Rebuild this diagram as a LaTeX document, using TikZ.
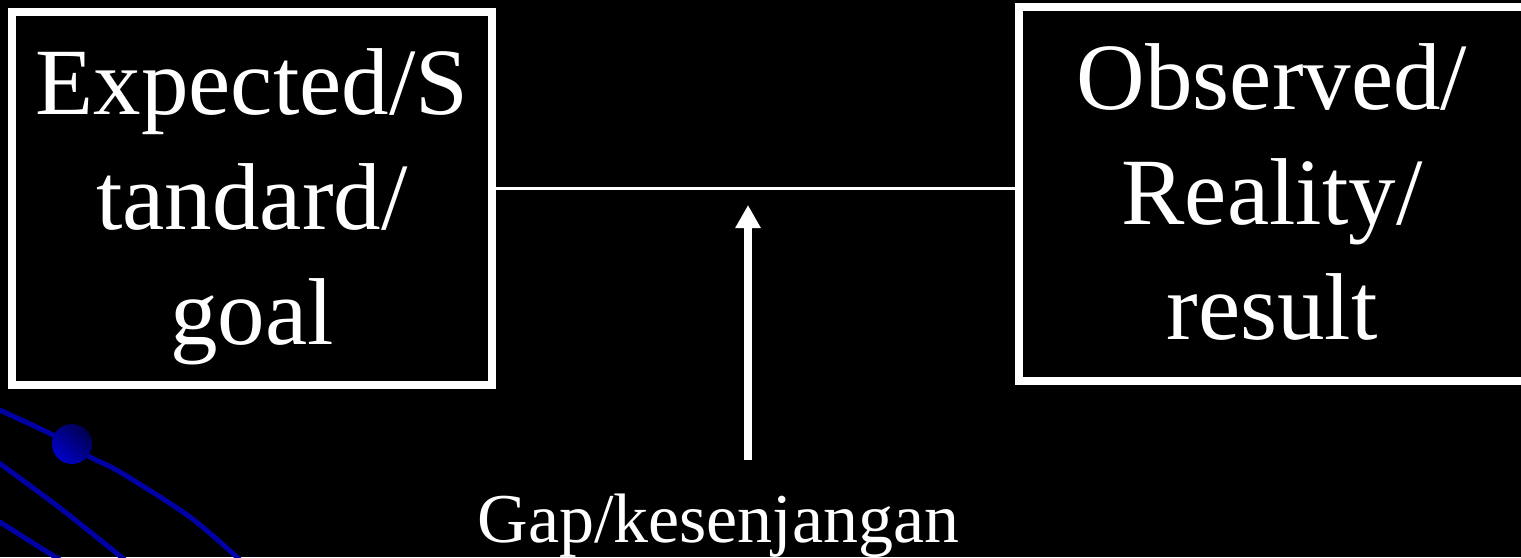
\documentclass[tikz,border=0pt]{standalone}
\usepackage{fontspec}
\setmainfont{Liberation Serif}
\usetikzlibrary{arrows.meta,calc}
\definecolor{deco}{RGB}{0,0,165}
\definecolor{ballhi}{RGB}{0,0,200}
\definecolor{balllo}{RGB}{0,0,80}
\tikzset{
  bigbox/.style={draw=white, line width=8pt, inner sep=0pt},
  boxtext/.style={text=white, align=center, inner sep=0pt,
    font=\fontsize{95}{115}\selectfont},
  gaplabel/.style={text=white, inner sep=0pt, font=\fontsize{70}{84}\selectfont},
  link/.style={draw=white, line width=3pt},
  uparrow/.style={draw=white, line width=8pt, -{Triangle[width=24pt,length=23pt]}},
  orbit/.style={draw=deco, line width=5pt, line cap=round}
}
\begin{document}
\begin{tikzpicture}[x=1pt,y=-1pt]
\fill[black] (0,0) rectangle (1521,557);
\useasboundingbox (0,0) rectangle (1521,557);
% decoration
\draw[orbit] plot[smooth] coordinates {(-5,408) (53,435) (90,457) (120,472) (190,517) (240,560)};
\draw[orbit] plot[smooth] coordinates {(-5,460) (60,508) (125,560)};
\draw[orbit] plot[smooth] coordinates {(-5,519) (60,560)};
\shade[shading=axis, top color=balllo, bottom color=ballhi, shading angle=-45] (72,444) circle (20);
% boxes
\node[bigbox, minimum width=480pt, minimum height=373pt] (L) at (252,198.5) {};
\node[boxtext, yshift=-8.5pt] (Lt) at (L.center) {Expected/S\\tandard/\\goal};
\node[bigbox, minimum width=506pt, minimum height=374pt] (R) at (1272,194) {};
\node[boxtext, yshift=1.5pt] (Rt) at (R.center) {Observed/\\Reality/\\result};
% connector
\draw[link] (L.east |- 0,188.5) -- (R.west |- 0,188.5);
% gap label and arrow
\node[gaplabel, anchor=base] (G) at (718.5,542) {Gap/kesenjangan};
\coordinate (a0) at (748,460);
\coordinate (a1) at (748,205);
\draw[uparrow] (a0) -- (a1);
\end{tikzpicture}
\end{document}
